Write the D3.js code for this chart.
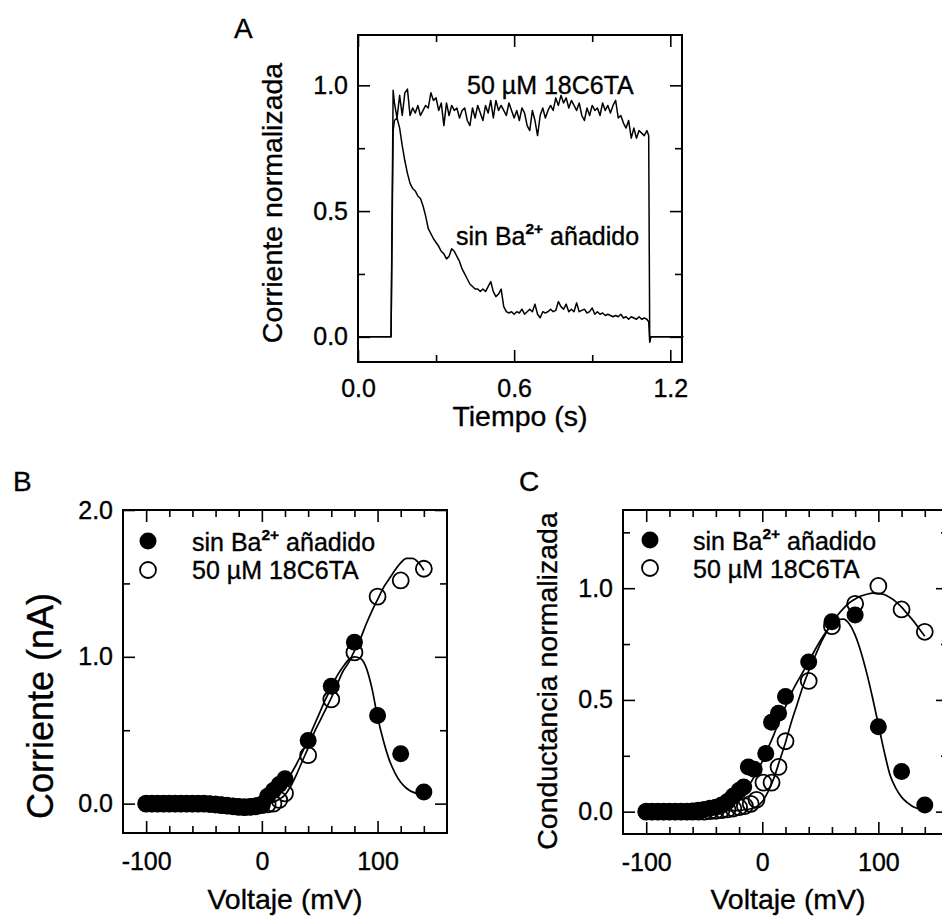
<!DOCTYPE html>
<html><head><meta charset="utf-8">
<script src="https://cdn.jsdelivr.net/npm/d3@7"></script>
<style>body{margin:0;background:#fff}svg{display:block}text{font-family:'Liberation Sans',Arial,Helvetica,sans-serif;fill:#000;stroke:#000;stroke-width:0.35px}</style>
</head><body>
<script>
// ---------- Panel A data (Tiempo s, corriente normalizada) ----------
const tA = [0,0.127,0.135,
0.14,0.15,0.16,0.17,0.18,0.19,
0.20,0.21,0.22,0.23,0.24,0.25,0.26,0.27,0.28,0.29,
0.30,0.31,0.32,0.33,0.34,0.35,0.36,0.37,0.38,0.39,
0.40,0.41,0.42,0.43,0.44,0.45,0.46,0.47,0.48,0.49,
0.50,0.51,0.52,0.53,0.54,0.55,0.56,0.57,0.58,0.59,
0.60,0.61,0.62,0.63,0.64,0.65,0.66,0.67,0.68,0.69,
0.70,0.71,0.72,0.73,0.74,0.75,0.76,0.77,0.78,0.79,
0.80,0.81,0.82,0.83,0.84,0.85,0.86,0.87,0.88,0.89,
0.90,0.91,0.92,0.93,0.94,0.95,0.96,0.97,0.98,0.99,
1.00,1.01,1.02,1.03,1.04,1.05,1.06,1.07,1.08,1.09,
1.10,1.11,1.117,1.121,1.125,1.25];
const iCrownA = [0,0,0.98,
0.93,0.87,0.96,0.88,0.97,0.985,
0.88,0.91,0.89,0.92,0.88,0.90,0.92,0.91,0.97,0.94,
0.95,0.90,0.93,0.84,0.93,0.88,0.92,0.90,0.91,0.87,
0.90,0.91,0.86,0.84,0.91,0.87,0.92,0.89,0.86,0.92,
0.89,0.94,0.87,0.94,0.90,0.92,0.90,0.88,0.93,0.90,
0.87,0.90,0.86,0.91,0.89,0.84,0.82,0.90,0.86,0.80,
0.88,0.91,0.87,0.90,0.92,0.90,0.95,0.92,0.96,0.93,
0.95,0.91,0.94,0.92,0.90,0.93,0.88,0.86,0.91,0.88,
0.92,0.90,0.91,0.88,0.93,0.90,0.92,0.89,0.92,0.94,
0.87,0.88,0.85,0.83,0.86,0.79,0.83,0.79,0.82,0.81,
0.80,0.82,0.80,-0.02,0,0];
const iSinA = [0,0,0.82,
0.86,0.87,0.83,0.76,0.70,0.65,
0.61,0.59,0.58,0.56,0.55,0.52,0.48,0.43,0.41,0.39,
0.375,0.36,0.34,0.33,0.31,0.32,0.35,0.34,0.32,0.30,
0.27,0.25,0.23,0.21,0.20,0.19,0.19,0.18,0.19,0.18,
0.20,0.22,0.18,0.16,0.17,0.19,0.12,0.10,0.095,0.10,
0.09,0.10,0.095,0.11,0.09,0.10,0.11,0.10,0.13,0.09,
0.076,0.10,0.095,0.10,0.11,0.10,0.105,0.14,0.12,0.11,
0.13,0.10,0.11,0.10,0.135,0.10,0.105,0.11,0.095,0.10,
0.115,0.09,0.10,0.09,0.095,0.085,0.09,0.085,0.08,0.085,
0.08,0.09,0.075,0.08,0.07,0.08,0.075,0.07,0.08,0.07,
0.075,0.07,0.06,-0.02,0,0];
const ticksAx = [0, 0.6, 1.2], minorAx = [0.3, 0.9];
const ticksAy = [0, 0.5, 1.0], minorAy = [0.25, 0.75];

// ---------- Panel B data (Voltaje mV, corriente nA) ----------
const vB = [-100,-95,-90,-85,-80,-75,-70,-65,-60,-55,-50,-45,-40,-35,-30,-25,-20,-15,-10,-5,0,5,10,15,20,40,60,80,100,120,140];
const iB_sin = [0,0,0,0,0,0,0,0,0,0,0,-0.003,-0.006,-0.01,-0.014,-0.018,-0.022,-0.024,-0.022,-0.015,-0.005,0.05,0.09,0.13,0.17,0.43,0.80,1.10,0.60,0.34,0.08];
const iB_crown = [0,0,0,0,0,0,0,0,0,0,0,-0.003,-0.006,-0.01,-0.014,-0.018,-0.022,-0.024,-0.022,-0.018,-0.01,-0.005,0.0,0.025,0.07,0.33,0.71,1.03,1.41,1.52,1.60];
const fitB_v = [-100,-60,-40,-20,-10,0,5,10,15,20,25,30,35,40,45,50,55,60,65,70,75,80,85,90,95,100,105,110,115,120,125,130,135,140];
const fitB_sin = [0,0,-0.005,-0.012,-0.008,0.005,0.02,0.045,0.085,0.135,0.2,0.27,0.35,0.44,0.53,0.62,0.71,0.79,0.87,0.93,0.98,1.0,0.99,0.93,0.79,0.59,0.43,0.30,0.21,0.145,0.105,0.08,0.07,0.072];
const fitB_crown = [0,0,-0.005,-0.012,-0.01,-0.005,0.0,0.01,0.03,0.06,0.12,0.2,0.29,0.38,0.48,0.56,0.64,0.72,0.81,0.9,0.96,1.04,1.12,1.22,1.31,1.39,1.47,1.53,1.59,1.64,1.67,1.67,1.645,1.59];
const ticksBx = [-100, 0, 100], minorBx = [-80,-60,-40,-20,20,40,60,80,120,140];
const ticksBy = [0, 1.0, 2.0], minorBy = [0.5, 1.5];

// ---------- Panel C data (Voltaje mV, conductancia normalizada) ----------
const vC_sin = [-100,-95,-90,-85,-80,-75,-70,-65,-60,-55,-50,-45,-40,-35,-30,-25,-20,-16,-12,-7,3,8,14,20,40,60,80,100,120,140];
const gC_sin = [0,0,0,0,0,0,0,0,0.003,0.006,0.01,0.015,0.02,0.03,0.045,0.07,0.095,0.11,0.2,0.19,0.26,0.40,0.44,0.515,0.67,0.85,0.88,0.38,0.18,0.03];
const vC_crown = [-100,-95,-90,-85,-80,-75,-70,-65,-60,-55,-50,-45,-40,-35,-30,-25,-20,-15,-10,-5,1,8,14,20,40,60,80,100,120,140];
const gC_crown = [0,0,0,0,0,0,0,0,0,0,0,0.002,0.004,0.007,0.01,0.014,0.02,0.025,0.035,0.053,0.13,0.13,0.2,0.315,0.585,0.83,0.93,1.01,0.905,0.805];
const fitC_v = [-100,-80,-60,-50,-40,-30,-20,-10,-5,0,5,10,15,20,25,30,35,40,45,50,55,60,65,70,75,80,85,90,95,100,105,110,115,120,125,130,135,140];
const fitC_sin = [0,0.001,0.004,0.007,0.015,0.03,0.065,0.13,0.175,0.225,0.285,0.345,0.41,0.47,0.53,0.58,0.625,0.67,0.72,0.765,0.805,0.84,0.86,0.862,0.84,0.79,0.715,0.62,0.51,0.39,0.27,0.165,0.105,0.065,0.04,0.022,0.012,0.006];
const fitC_crown = [0,0,0.001,0.001,0.002,0.004,0.006,0.013,0.022,0.045,0.09,0.15,0.23,0.31,0.4,0.48,0.56,0.63,0.69,0.75,0.8,0.845,0.88,0.91,0.935,0.952,0.965,0.973,0.978,0.977,0.972,0.958,0.94,0.915,0.885,0.855,0.82,0.785];
const ticksCy = [0, 0.5, 1.0], minorCy = [0.25, 0.75, 1.25];

const lblSin = ["sin Ba", "2+", " añadido"];
const lblCrown = "50 µM 18C6TA";

// ---------- drawing ----------
const W = 942, H = 916;
const svg = d3.select("body").append("svg").attr("width", W).attr("height", H);
const TICK = 25, TITLE = 28.5;

function panel(o) {
  const g = svg.append("g");
  const x = d3.scaleLinear().domain(o.xd).range([o.L, o.R]);
  const y = d3.scaleLinear().domain(o.yd).range([o.B, o.T]);
  const put = (axis, tr) => {
    const a = g.append("g").attr("transform", tr).call(axis);
    a.select(".domain").remove();
    a.attr("font-family", null).attr("font-size", null);
    a.selectAll("line").attr("stroke", "#000").attr("stroke-width", 1.6);
    a.selectAll("text").attr("font-size", TICK);
    return a;
  };
  put(d3.axisBottom(x).tickValues(o.xMajor).tickSize(-12).tickPadding(o.xpad || 19).tickFormat(o.xfmt), `translate(0,${o.B})`);
  put(d3.axisBottom(x).tickValues(o.xMinor).tickSize(-7).tickFormat(() => ""), `translate(0,${o.B})`);
  put(d3.axisTop(x).tickValues(o.xMajor).tickSize(-12).tickFormat(() => ""), `translate(0,${o.T})`);
  put(d3.axisTop(x).tickValues(o.xMinor).tickSize(-7).tickFormat(() => ""), `translate(0,${o.T})`);
  put(d3.axisLeft(y).tickValues(o.yMajor).tickSize(-12).tickPadding(10).tickFormat(o.yfmt), `translate(${o.L},0)`);
  put(d3.axisLeft(y).tickValues(o.yMinor).tickSize(-7).tickFormat(() => ""), `translate(${o.L},0)`);
  put(d3.axisRight(y).tickValues(o.yMajor).tickSize(-12).tickFormat(() => ""), `translate(${o.R},0)`);
  put(d3.axisRight(y).tickValues(o.yMinor).tickSize(-7).tickFormat(() => ""), `translate(${o.R},0)`);
  g.append("rect").attr("x", o.L).attr("y", o.T).attr("width", o.R - o.L).attr("height", o.B - o.T)
    .attr("fill", "none").attr("stroke", "#000").attr("stroke-width", 2);
  return { g, x, y };
}
const f1 = d3.format(".1f");
const fInt = d => String(d);

function sinLabel(g, xp, yp, size) {
  const t = g.append("text").attr("x", xp).attr("y", yp).attr("font-size", size);
  t.append("tspan").text(lblSin[0]);
  t.append("tspan").attr("dy", -11).attr("font-size", size * 0.62).attr("font-weight", "bold").text(lblSin[1]);
  t.append("tspan").attr("dy", 11).text(lblSin[2]);
}
function title(g, txt, xp, yp, rot, size) {
  return g.append("text").attr("font-size", size || TITLE).attr("text-anchor", "middle")
    .attr("transform", `translate(${xp},${yp})` + (rot ? " rotate(-90)" : "")).text(txt);
}

// Panel A
const A = panel({ L: 358, R: 682, T: 35, B: 362, xd: [0, 1.245], yd: [-0.1, 1.2],
  xMajor: ticksAx, xMinor: minorAx, yMajor: ticksAy, yMinor: minorAy, xfmt: f1, yfmt: f1, xpad: 17 });
const lineA = d3.line().x((d, i) => A.x(tA[i])).y(d => A.y(d));
A.g.append("path").attr("d", lineA(iCrownA)).attr("fill", "none").attr("stroke", "#000").attr("stroke-width", 1.5).attr("stroke-linejoin", "round");
A.g.append("path").attr("d", lineA(iSinA)).attr("fill", "none").attr("stroke", "#000").attr("stroke-width", 1.5).attr("stroke-linejoin", "round");
A.g.append("text").attr("x", 467).attr("y", 94).attr("font-size", 25).text(lblCrown);
sinLabel(A.g, 456, 245, 25);
title(A.g, "Tiempo (s)", 520, 426, false);
title(A.g, "Corriente normalizada", 282, 203, true);
svg.append("text").attr("x", 234).attr("y", 38).attr("font-size", 28).text("A");

// Panel B
const B = panel({ L: 123, R: 447, T: 510, B: 833, xd: [-120, 160], yd: [-0.2, 2.0],
  xMajor: ticksBx, xMinor: minorBx, yMajor: ticksBy, yMinor: minorBy, xfmt: fInt, yfmt: f1 });
function drawIV(P, fitV, fitS, fitC, vS, yS, vCr, yCr) {
  const ln = d3.line().curve(d3.curveMonotoneX);
  P.g.append("path").attr("d", ln(fitV.map((v, i) => [P.x(v), P.y(fitS[i])]))).attr("fill", "none").attr("stroke", "#000").attr("stroke-width", 1.7);
  P.g.append("path").attr("d", ln(fitV.map((v, i) => [P.x(v), P.y(fitC[i])]))).attr("fill", "none").attr("stroke", "#000").attr("stroke-width", 1.7);
  P.g.selectAll(null).data(vS).enter().append("circle")
    .attr("cx", d => P.x(d)).attr("cy", (d, i) => P.y(yS[i])).attr("r", 8.5).attr("fill", "#000");
  P.g.selectAll(null).data(vCr).enter().append("circle")
    .attr("cx", d => P.x(d)).attr("cy", (d, i) => P.y(yCr[i])).attr("r", 8).attr("fill", "none").attr("stroke", "#000").attr("stroke-width", 1.8);
}
drawIV(B, fitB_v, fitB_sin, fitB_crown, vB, iB_sin, vB, iB_crown);
function legend(P, cx, cy1, cy2, tx, ty1, ty2) {
  P.g.append("circle").attr("cx", cx).attr("cy", cy1).attr("r", 8.5).attr("fill", "#000");
  P.g.append("circle").attr("cx", cx).attr("cy", cy2).attr("r", 8).attr("fill", "none").attr("stroke", "#000").attr("stroke-width", 1.8);
  sinLabel(P.g, tx, ty1, 25);
  P.g.append("text").attr("x", tx).attr("y", ty2).attr("font-size", 25).text(lblCrown);
}
legend(B, 148, 541, 570, 192, 551, 579);
title(B.g, "Voltaje (mV)", 285, 909, false);
title(B.g, "Corriente (nA)", 53, 706, true, 36);
svg.append("text").attr("x", 13).attr("y", 491).attr("font-size", 28).text("B");

// Panel C
const C = panel({ L: 623, R: 948, T: 510, B: 834, xd: [-120, 160], yd: [-0.1, 1.35],
  xMajor: ticksBx, xMinor: minorBx, yMajor: ticksCy, yMinor: minorCy, xfmt: fInt, yfmt: f1 });
drawIV(C, fitC_v, fitC_sin, fitC_crown, vC_sin, gC_sin, vC_crown, gC_crown);
legend(C, 650, 540, 568, 693, 550, 578);
title(C.g, "Voltaje (mV)", 788, 909, false);
title(C.g, "Conductancia normalizada", 557, 681, true);
svg.append("text").attr("x", 519).attr("y", 491).attr("font-size", 28).text("C");
</script>
</body></html>
